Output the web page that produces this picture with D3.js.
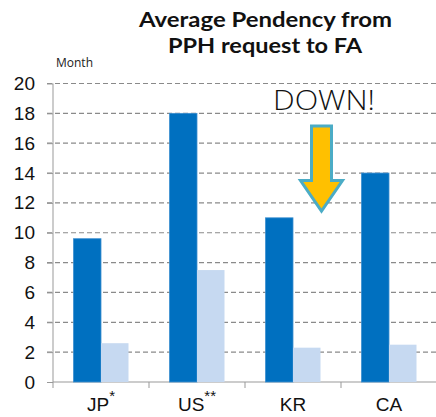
<!DOCTYPE html>
<html><head><meta charset="utf-8">
<script src="https://cdn.jsdelivr.net/npm/d3@7/dist/d3.min.js"></script>
<style>body{margin:0;background:#fff}svg{display:block}</style>
</head><body>
<script>
const categories = ["JP", "US", "KR", "CA"];
const superscripts = ["*", "**", "", ""];
const seriesBefore = [9.6, 18, 11, 14];
const seriesAfter = [2.6, 7.5, 2.3, 2.5];
const yTicks = [0, 2, 4, 6, 8, 10, 12, 14, 16, 18, 20];

const W = 436, H = 417;
const svg = d3.select("body").append("svg").attr("width", W).attr("height", H);

const x = d3.scaleBand().domain(categories).range([53, 437]).paddingInner(0).paddingOuter(0);
const x1 = d3.scaleBand().domain([0, 1]).range([0, x.bandwidth()]).paddingOuter(0.745).paddingInner(0);
const y = d3.scaleLinear().domain([0, 20]).range([382, 83.5]);

// gridlines
svg.append("g").selectAll("line").data(yTicks.filter(d => d > 0)).join("line")
  .attr("x1", 47).attr("x2", W).attr("y1", d => y(d)).attr("y2", d => y(d))
  .attr("stroke", "#8a8a8a").attr("stroke-width", 1.2).attr("stroke-dasharray", "5,3");

// y axis
const yAxis = svg.append("g").attr("transform", "translate(53,0)")
  .call(d3.axisLeft(y).tickValues(yTicks).tickSize(6).tickPadding(12));
yAxis.select(".domain").attr("stroke", "#999").attr("d", `M0,${y(0)}V${y(20)}`);
yAxis.selectAll(".tick line").attr("stroke", "#999");
yAxis.selectAll("text").attr("font-family", "Liberation Sans, Arial, sans-serif").attr("font-size", 19).attr("fill", "#111");

// x axis
const xAxisG = svg.append("g").attr("transform", `translate(0,${y(0)})`);
xAxisG.append("line").attr("x1", 53).attr("x2", W).attr("y1", 0).attr("y2", 0).attr("stroke", "#999").attr("stroke-width", 1.2);
xAxisG.selectAll("line.tk").data(categories).join("line").attr("class", "tk")
  .attr("x1", d => x(d)).attr("x2", d => x(d)).attr("y1", 0).attr("y2", 6).attr("stroke", "#999");
const lbl = xAxisG.selectAll("text").data(categories).join("text")
  .attr("x", d => x(d) + x.bandwidth() / 2).attr("y", 29)
  .attr("text-anchor", "middle").attr("font-family", "Liberation Sans, Arial, sans-serif")
  .attr("font-size", 19).attr("fill", "#111");
lbl.append("tspan").text(d => d);
lbl.append("tspan").attr("dy", -10).attr("font-size", 15).text((d, i) => superscripts[i]);

// bars
const g = svg.append("g");
g.selectAll("rect.b").data(categories).join("rect").attr("class", "b")
  .attr("x", d => x(d) + x1(0)).attr("width", x1.bandwidth())
  .attr("y", (d, i) => y(seriesBefore[i])).attr("height", (d, i) => y(0) - y(seriesBefore[i]))
  .attr("fill", "#0070C0").attr("stroke", "#3d8fd0").attr("stroke-width", 0.8);
g.selectAll("rect.a").data(categories).join("rect").attr("class", "a")
  .attr("x", d => x(d) + x1(1)).attr("width", x1.bandwidth())
  .attr("y", (d, i) => y(seriesAfter[i])).attr("height", (d, i) => y(0) - y(seriesAfter[i]))
  .attr("fill", "#C6D9F1");

// title
const t = svg.append("g").attr("font-family", "Lato, sans-serif")
  .attr("font-weight", "bold").attr("font-size", 21).attr("fill", "#111");
t.append("text").attr("x", 139).attr("y", 27).attr("textLength", 253).attr("lengthAdjust", "spacingAndGlyphs").text("Average Pendency from");
t.append("text").attr("x", 168).attr("y", 53).attr("textLength", 194).attr("lengthAdjust", "spacingAndGlyphs").text("PPH request to FA");

svg.append("text").attr("x", 56).attr("y", 67).attr("font-family", "Open Sans, sans-serif")
  .attr("font-size", 12).attr("fill", "#222").text("Month");

// annotation
svg.append("text").attr("x", 273).attr("y", 110)
  .attr("font-family", "Open Sans, sans-serif").attr("font-weight", 300).attr("font-size", 28)
  .attr("textLength", 102).attr("lengthAdjust", "spacingAndGlyphs")
  .attr("fill", "#111").text("DOWN!");

const cx = 321.5;
const arrow = [[cx - 10, y(17.15)], [cx + 10, y(17.15)], [cx + 10, y(13.5)], [cx + 21, y(13.5)],
  [cx, y(11.45)], [cx - 21, y(13.5)], [cx - 10, y(13.5)]];
svg.append("path").attr("d", d3.line()(arrow) + "Z")
  .attr("fill", "#FFC000").attr("stroke", "#4BACC6").attr("stroke-width", 3).attr("stroke-linejoin", "miter");
</script>
</body></html>
